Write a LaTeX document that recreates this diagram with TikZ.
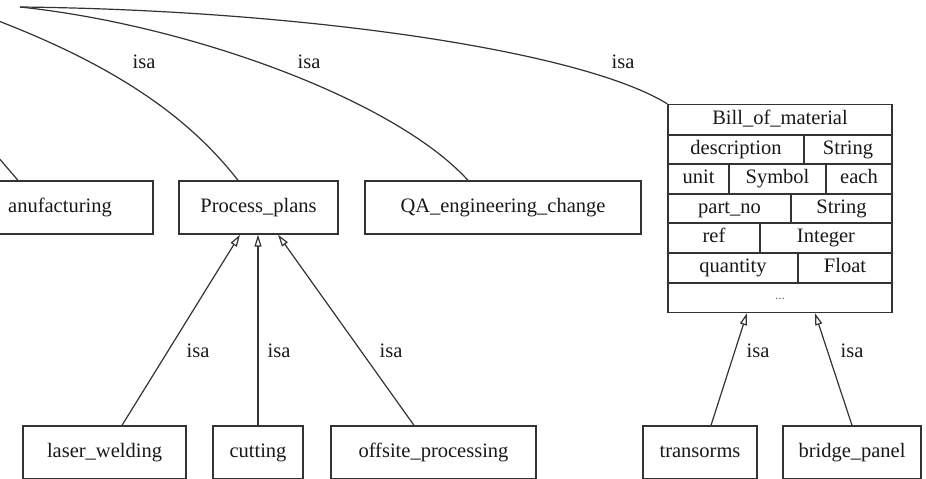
\documentclass[tikz,border=0pt]{standalone}
\usepackage{fontspec}
\setmainfont{Liberation Serif}
\usetikzlibrary{arrows.meta,calc}
\begin{document}
\begin{tikzpicture}[x=1pt,y=-1pt,
  txt/.style={inner sep=0pt, font=\fontsize{20.5}{24}\selectfont, text height=14pt, text depth=4.5pt, text=black!90},
  box/.style={txt, draw=black!80, line width=1.3pt, minimum height=53pt},
  conn/.style={draw=black!80, line width=1.2pt},
  isa/.style={conn, -{Triangle[open,length=12pt,width=7pt]}},
  rule/.style={draw=black!80, line width=1.3pt},
]
\useasboundingbox (0,0) rectangle (926,479);
\clip (0,0) rectangle (926,479);
\fill[white] (0,0) rectangle (926,479);

% middle row
\node[box, minimum width=203pt] (man) at (51.5,207.5) {};
\node[txt, anchor=west] (mant) at (8,207.5) {anufacturing};
\node[box, minimum width=159pt] (pp) at (258.5,207.5) {Process\_plans};
\node[box, minimum width=276pt] (qa) at (503,207.5) {QA\_engineering\_change};

% Bill of material record
\node[draw=black!80, line width=1.3pt, minimum width=224pt, minimum height=208pt, inner sep=0pt] (bom) at (780,208.5) {};
\draw[rule] (668,135) -- (892,135);
\draw[rule] (668,164) -- (892,164);
\draw[rule] (668,194) -- (892,194);
\draw[rule] (668,223) -- (892,223);
\draw[rule] (668,253) -- (892,253);
\draw[rule] (668,283) -- (892,283);
\draw[rule] (804,135) -- (804,164);
\draw[rule] (729,164) -- (729,194);
\draw[rule] (826,164) -- (826,194);
\draw[rule] (791,194) -- (791,223);
\draw[rule] (760,223) -- (760,253);
\draw[rule] (798,253) -- (798,283);
\node[txt] (bomt) at (780,120) {Bill\_of\_material};
\node[txt] (c1a) at (736,149.5) {description};
\node[txt] (c1b) at (848,149.5) {String};
\node[txt] (c2a) at (698.5,179) {unit};
\node[txt] (c2b) at (777.5,179) {Symbol};
\node[txt] (c2c) at (859,179) {each};
\node[txt] (c3a) at (729.5,208.5) {part\_no};
\node[txt] (c3b) at (841.5,208.5) {String};
\node[txt] (c4a) at (714,238) {ref};
\node[txt] (c4b) at (826,238) {Integer};
\node[txt] (c5a) at (733,268) {quantity};
\node[txt] (c5b) at (845,268) {Float};
\node[inner sep=0pt, font=\fontsize{13}{14}\selectfont, text=black!60] (c6) at (780,299) {...};

% bottom row
\node[box, minimum width=163pt] (lw) at (104.5,452.5) {laser\_welding};
\node[box, minimum width=90pt] (cut) at (258,452.5) {cutting};
\node[box, minimum width=205pt] (off) at (433.5,452.5) {offsite\_processing};
\node[box, minimum width=114pt] (tr) at (700,452.5) {transorms};
\node[box, minimum width=138pt] (bp) at (852,452.5) {bridge\_panel};

% isa edges (child -> parent)
\draw[isa] ($(lw.north)+(17.5,0)$) -- ($(pp.south)+(-18.5,0)$);
\draw[isa] (cut.north) -- ($(pp.south)+(-0.5,0)$);
\draw[isa] ($(off.north)+(-19.5,0)$) -- ($(pp.south)+(19.5,0)$);
\draw[isa] ($(tr.north)+(11,0)$) -- ($(bom.south)+(-33,0)$);
\draw[isa] ($(bp.north)+(0,0)$) -- ($(bom.south)+(35,0)$);

\node[txt] (l1) at (198,353) {isa};
\node[txt] (l2) at (279,353) {isa};
\node[txt] (l3) at (391,353) {isa};
\node[txt] (l4) at (758,353) {isa};
\node[txt] (l5) at (852,353) {isa};

% edges from the parent above (off the picture)
\coordinate (top1) at (-40,113);
\coordinate (top2) at (-20,14);
\coordinate (top3) at (20,7);
\draw[conn] (top1) -- ($(man.north)+(-33.5,0)$);
\draw[conn] (top2) .. controls (105,60) and (185,112) .. ($(pp.north)+(-20.5,0)$);
\draw[conn] (top3) .. controls (190,25) and (395,100) .. ($(qa.north)+(-35,0)$);
\draw[conn] (top3) .. controls (300,10) and (580,50) .. (bom.north west);

\node[txt] (t1) at (144,64) {isa};
\node[txt] (t2) at (309,64) {isa};
\node[txt] (t3) at (623,64) {isa};
\end{tikzpicture}
\end{document}
